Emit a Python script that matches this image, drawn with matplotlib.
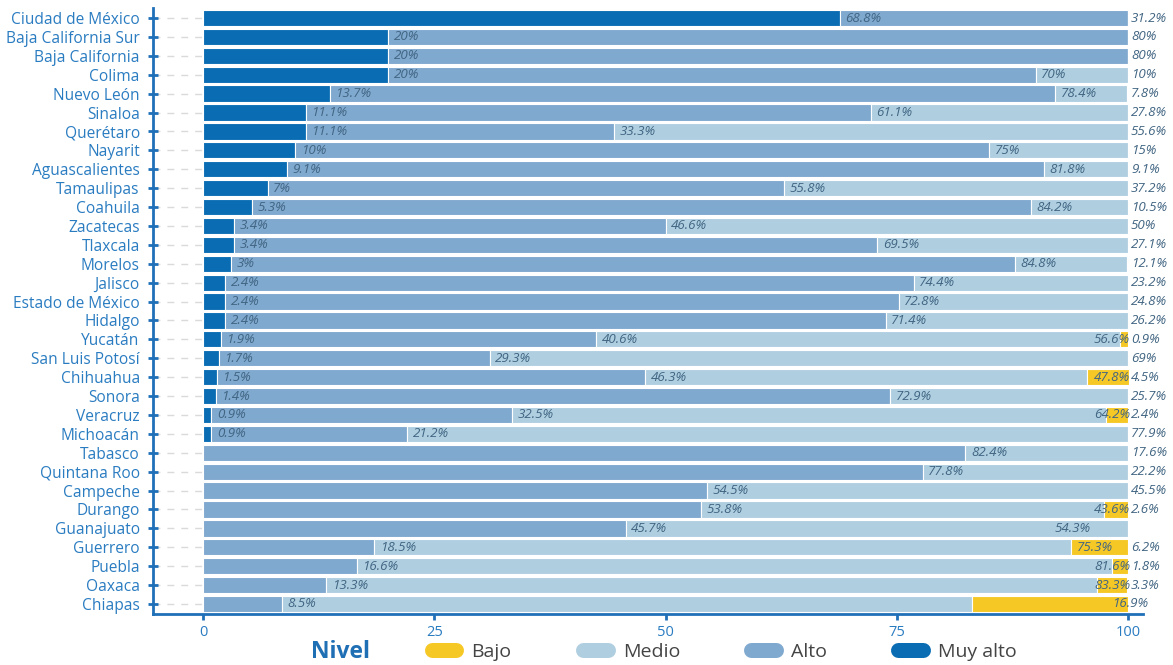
import matplotlib
matplotlib.use("Agg")
import matplotlib.pyplot as plt
from matplotlib.lines import Line2D

plt.rcParams['font.family'] = ['Open Sans', 'DejaVu Sans']

estados = [
    "Ciudad de México", "Baja California Sur", "Baja California", "Colima",
    "Nuevo León", "Sinaloa", "Querétaro", "Nayarit", "Aguascalientes",
    "Tamaulipas", "Coahuila", "Zacatecas", "Tlaxcala", "Morelos", "Jalisco",
    "Estado de México", "Hidalgo", "Yucatán", "San Luis Potosí", "Chihuahua",
    "Sonora", "Veracruz", "Michoacán", "Tabasco", "Quintana Roo", "Campeche",
    "Durango", "Guanajuato", "Guerrero", "Puebla", "Oaxaca", "Chiapas",
]
muy_alto = [68.8, 20, 20, 20, 13.7, 11.1, 11.1, 10, 9.1, 7, 5.3, 3.4, 3.4, 3,
            2.4, 2.4, 2.4, 1.9, 1.7, 1.5, 1.4, 0.9, 0.9, 0, 0, 0, 0, 0, 0, 0, 0, 0]
alto = [31.2, 80, 80, 70, 78.4, 61.1, 33.3, 75, 81.8, 55.8, 84.2, 46.6, 69.5,
        84.8, 74.4, 72.8, 71.4, 40.6, 29.3, 46.3, 72.9, 32.5, 21.2, 82.4, 77.8,
        54.5, 53.8, 45.7, 18.5, 16.6, 13.3, 8.5]
medio = [0, 0, 0, 10, 7.8, 27.8, 55.6, 15, 9.1, 37.2, 10.5, 50, 27.1, 12.1,
         23.2, 24.8, 26.2, 56.6, 69, 47.8, 25.7, 64.2, 77.9, 17.6, 22.2, 45.5,
         43.6, 54.3, 75.3, 81.6, 83.3, 74.6]
bajo = [0, 0, 0, 0, 0, 0, 0, 0, 0, 0, 0, 0, 0, 0, 0, 0, 0, 0.9, 0, 4.5, 0, 2.4,
        0, 0, 0, 0, 2.6, 0, 6.2, 1.8, 3.3, 16.9]

niveles = ["Muy alto", "Alto", "Medio", "Bajo"]
colores = {"Muy alto": "#0a6cb3", "Alto": "#80a9cf", "Medio": "#afcfe1", "Bajo": "#f6c826"}

# labels that were not drawn / moved in the original
ocultas = {("Chiapas", "Medio")}
ajuste_ultima = {"Guanajuato": -8.3, "Chiapas": -2.0}

txt_color = "#416582"
azul = "#1f70b8"

fig = plt.figure(figsize=(11.73, 6.65), dpi=100)
ax = fig.add_axes([153 / 1173, 1 - 614 / 665, 990 / 1173, 606 / 665])

xmin, xmax = -5.4, 101.6
y = list(range(len(estados)))
series = [muy_alto, alto, medio, bajo]
left = [0.0] * len(estados)
for nivel, vals in zip(niveles, series):
    ax.barh(y, vals, left=left, height=0.86, color=colores[nivel],
            edgecolor="white", linewidth=0.8, zorder=2)
    left = [l + v for l, v in zip(left, vals)]

# dashed guide lines between the axis and the bars
ax.hlines(y, xmin, 0, colors="#dadada", linestyles=(0, (5, 5)), linewidth=1, zorder=0)

# value labels at the end of each segment
for i, estado in enumerate(estados):
    segs = [(n, s[i]) for n, s in zip(niveles, series) if s[i] > 0]
    cum = 0
    for k, (nivel, v) in enumerate(segs):
        cum += v
        if (estado, nivel) in ocultas:
            continue
        lab = f"{v:g}%"
        if k == len(segs) - 1:
            x = 100.3 + ajuste_ultima.get(estado, 0)
            ha = "left"
        elif cum > 95.5:
            x, ha = 100.2, "right"
        else:
            x, ha = cum + 0.6, "left"
        ax.text(x, i, lab, ha=ha, va="center", fontsize=9.6, style="italic",
                color=txt_color, zorder=3)

ax.set_xlim(xmin, xmax)
ax.set_ylim(len(estados) - 0.47, -0.53)
ax.set_yticks(y)
ax.set_yticklabels(estados)
ax.set_xticks([0, 25, 50, 75, 100])

for s in ["top", "right"]:
    ax.spines[s].set_visible(False)
for s in ["left", "bottom"]:
    ax.spines[s].set_color(azul)
    ax.spines[s].set_linewidth(2)

ax.tick_params(axis="y", direction="inout", length=7, width=2, color=azul,
               labelcolor="#2a7cc1", labelsize=11.2, pad=6)
ax.tick_params(axis="x", direction="out", length=4, width=2, color=azul,
               labelcolor="#2a7cc1", labelsize=10.5, pad=4)

# legend
fig.text(311 / 1173, 1 - 652 / 665, "Nivel", fontsize=16.5, fontweight="bold",
         color="#1f6fb5", va="center", ha="left")
orden_leyenda = ["Bajo", "Medio", "Alto", "Muy alto"]
handles = [Line2D([0], [0], color=colores[n], lw=10.8, solid_capstyle="round")
           for n in orden_leyenda]
fig.legend(handles, orden_leyenda, loc="center left", ncol=4, frameon=False,
           bbox_to_anchor=(414 / 1173, 1 - 652 / 665), fontsize=14,
           handlelength=1.28, columnspacing=3.65, handletextpad=0.78,
           labelcolor="#444444")

fig.savefig("out.png", dpi=100)
